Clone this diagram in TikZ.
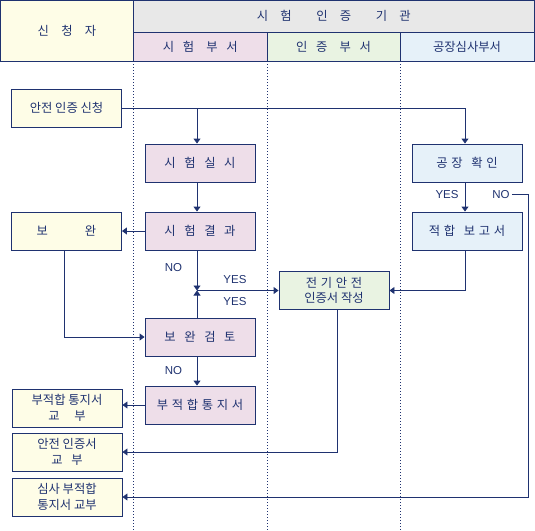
\documentclass[tikz,border=0pt]{standalone}
\usepackage{fontspec}
\setmainfont{Noto Sans CJK KR}
\newfontfamily\latin{Liberation Sans}
\usetikzlibrary{arrows.meta}
\definecolor{navy}{RGB}{31,50,112}
\definecolor{appfill}{RGB}{254,253,231}
\definecolor{testfill}{RGB}{238,222,233}
\definecolor{certfill}{RGB}{233,243,226}
\definecolor{factfill}{RGB}{230,241,249}
\definecolor{headfill}{RGB}{232,232,232}
\newcommand{\gs}{\hspace{.3em}}
\newcommand{\gm}{\hspace{.7em}}
\tikzset{
  cell/.style={draw=navy, line width=0.9pt, inner sep=0pt, text=navy, font=\fontsize{12.3}{15.5}\selectfont},
  box/.style={cell, minimum width=110pt, minimum height=38pt, align=center},
  appbox/.style={box, fill=appfill},
  testbox/.style={box, fill=testfill},
  certbox/.style={box, fill=certfill},
  factbox/.style={box, fill=factfill},
  arr/.style={draw=navy, line width=0.9pt, -{Triangle[length=5pt,width=7pt]}},
  lbl/.style={text=navy, font=\latin\fontsize{11.5}{13}\selectfont, inner sep=0pt},
  lane/.style={draw=navy, line width=0.9pt, dash pattern=on 1pt off 2pt}
}
\begin{document}
\begin{tikzpicture}[x=1pt, y=-1pt]
    \useasboundingbox (0,0) rectangle (535,530);

    % lanes
    \path[lane] (133.5,61) -- (133.5,530)
        (267,61) -- (267,530)
        (400,61) -- (400,530);

    % header
    \node[cell, fill=appfill, minimum width=133pt, minimum height=60.5pt] (happ) at (67,30.75) {신\quad 청\quad 자};
    \node[cell, fill=headfill, minimum width=400.5pt, minimum height=31.5pt] (horg) at (333.75,16.25) {시\quad 험\qquad 인\quad 증\qquad 기\quad 관};
    \node[cell, fill=testfill, minimum width=133.5pt, minimum height=29pt] (htest) at (200.25,46.5) {시\gm 험\quad 부\gm 서};
    \node[cell, fill=certfill, minimum width=133pt, minimum height=29pt] (hcert) at (333.5,46.5) {인\gm 증\quad 부\gm 서};
    \node[cell, fill=factfill, minimum width=134pt, minimum height=29pt] (hfact) at (467,46.5) {공장심사부서};

    % steps
    \node[appbox] (req) at (66.5,108) {안전 인증 신청};
    \node[testbox] (run) at (200,163) {시\gm 험\gm 실\gm 시};
    \node[appbox] (supp) at (66.5,231) {보\hspace{3em}완};
    \node[testbox] (result) at (200,231) {시\gm 험\gm 결\gm 과};
    \node[factbox] (check) at (467,163) {공\gs 장\gm 확\gs 인};
    \node[factbox] (report) at (467,231) {적\gs 합\gm 보\gs 고\gs 서};
    \node[certbox] (issue) at (334,290.5) {전\gs 기\gs 안\gs 전\\인증서 작성};
    \node[testbox] (review) at (200,337) {보\gm 완\gm 검\gm 토};
    \node[testbox] (notice) at (200,405) {부\gs 적\gs 합\gs 통\gs 지\gs 서};
    \node[appbox] (give1) at (67,408) {부적합 통지서\\교\hspace{1.2em}부};
    \node[appbox] (give2) at (67,452) {안전 인증서\\교\gm 부};
    \node[appbox] (give3) at (67,497) {심사 부적합\\통지서 교부};

    \coordinate (j1) at (197,108);
    \coordinate (rx) at (465,108);
    \coordinate (j2) at (197,290.5);

    % connectors
    \draw[arr] (req.east) -| (rx |- check.north);
    \draw[arr] (j1) -- (j1 |- run.north);
    \draw[arr] (j1 |- run.south) -- (j1 |- result.north);
    \draw[arr] (result.west) -- (supp.east);
    \draw[arr] (j1 |- result.south) -- (j2);
    \draw[arr] (j1 |- review.north) -- (j2);
    \draw[arr] (j2) -- (j2 -| issue.west);
    \draw[arr] (rx |- check.south) -- (rx |- report.north);
    \draw[arr] (rx |- report.south) |- (issue.east);
    \draw[arr] ([xshift=-2.5pt]supp.south) |- (review.west);
    \draw[arr] (j1 |- review.south) -- (j1 |- notice.north);
    \draw[arr] (notice.west) -- (notice.west -| give1.east);
    \draw[arr] ([xshift=3pt]issue.south) |- (give2.east);

    \node[lbl] (yes1) at (447,194.5) {YES};
    \node[lbl] (no1) at (501,194.5) {NO};
    \draw[arr] ([xshift=2pt]no1.east) -- ++(16.5,0) |- (give3.east);

    \node[lbl] (no2) at (173.5,267.5) {NO};
    \node[lbl] (yes2) at (235,279.7) {YES};
    \node[lbl] (yes3) at (235,301.7) {YES};
    \node[lbl] (no3) at (173.5,370.5) {NO};
\end{tikzpicture}
\end{document}
